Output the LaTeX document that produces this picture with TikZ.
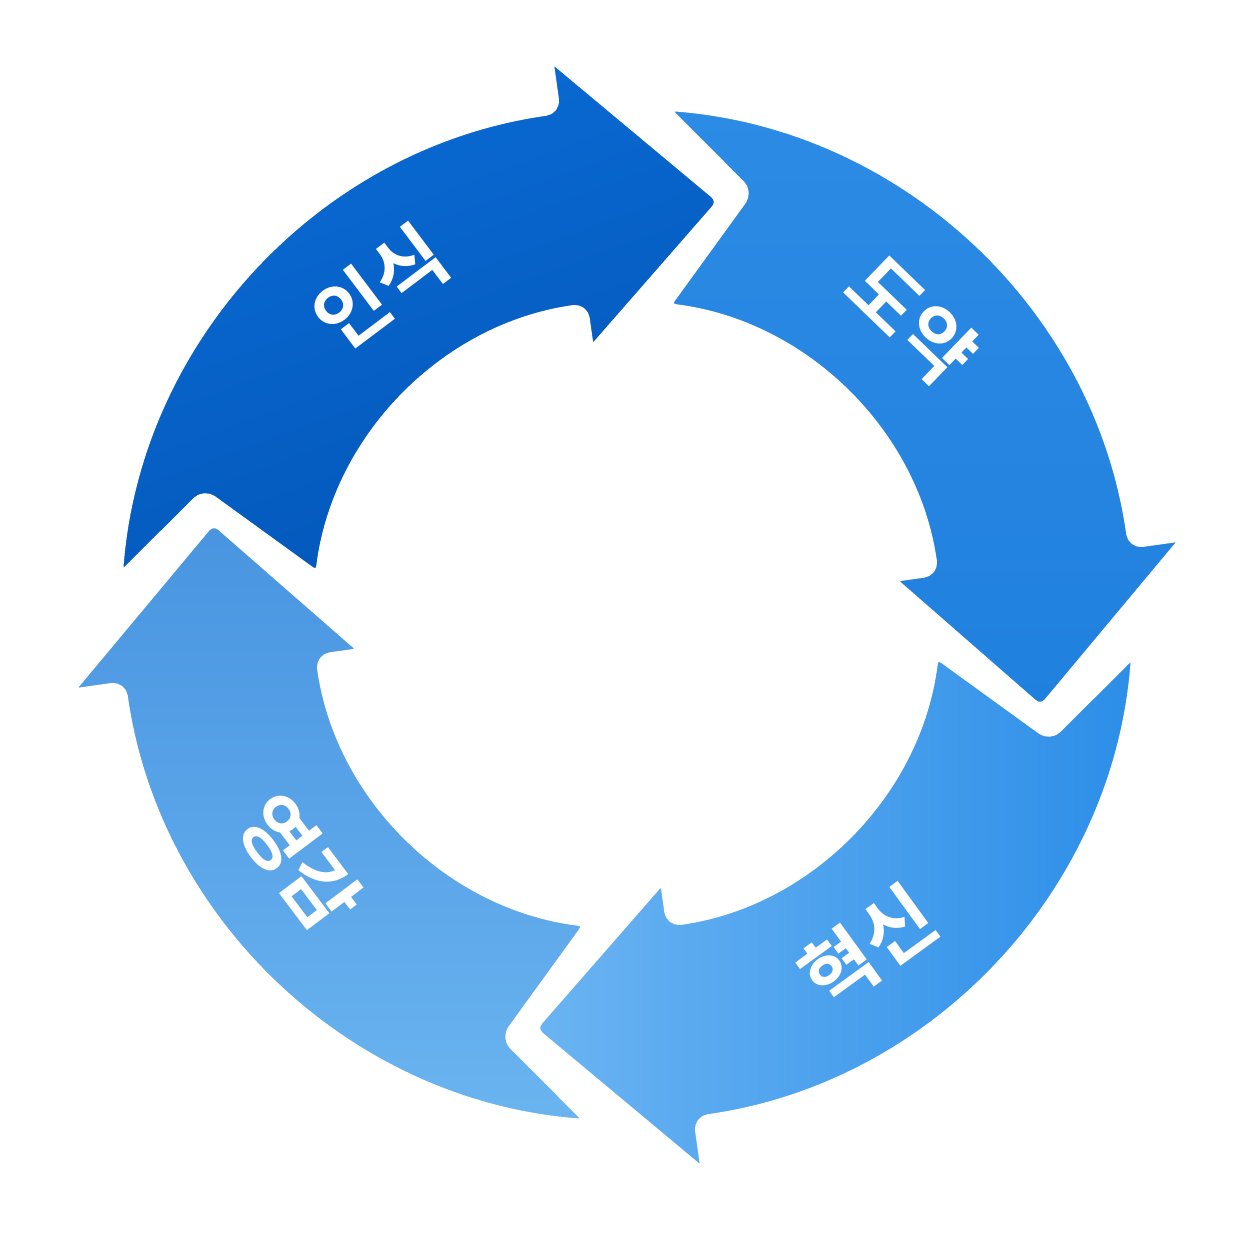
\documentclass[tikz,border=0pt]{standalone}
\usepackage{fontspec}
\newfontfamily\kr{Noto Sans CJK KR}[BoldFont={* Bold}]
\definecolor{blueA}{HTML}{0356B8}
\definecolor{blueB}{HTML}{0A6CD6}
\definecolor{blueC}{HTML}{2C8BE4}
\definecolor{blueD}{HTML}{2080DE}
\definecolor{blueE}{HTML}{2C8EE8}
\definecolor{blueF}{HTML}{6BB4F2}
\definecolor{blueG}{HTML}{6AB4F0}
\definecolor{blueH}{HTML}{4894E0}
\tikzset{
  seg/.style={draw=white, line width=5pt, line join=round, rounded corners=6pt},
  lbl/.style={font=\kr\bfseries\fontsize{44}{44}\selectfont, text=white, inner sep=0pt}
}
\newcommand{\cyclearrow}[2]{%
  \path[seg, #2]
    (176+#1:510) arc[start angle=176+#1, end angle=98+#1, radius=510]
    -- (98+#1:565) -- (77+#1:425) -- (98+#1:265)
    -- (98+#1:310) arc[start angle=98+#1, end angle=173+#1, radius=310]
    -- (164+#1:440) -- cycle;}
\begin{document}
\begin{tikzpicture}[x=0.02cm, y=0.02cm]
\useasboundingbox (0,0) rectangle (1254,1254);
\begin{scope}[shift={(627,639)}]
\cyclearrow{0}{left color=blueB, right color=blueA, shading angle=20}
\cyclearrow{-90}{top color=blueC, bottom color=blueD}
\cyclearrow{-180}{right color=blueE, left color=blueF}
\cyclearrow{-270}{bottom color=blueG, top color=blueH}
\node[lbl, rotate=37] (insik) at (127:410) {인식};
\node[lbl, rotate=-44] (doyak) at (46:410) {도약};
\node[lbl, rotate=36] (hyeoksin) at (-54:410) {혁신};
\node[lbl, rotate=-53] (yeonggam) at (217:410) {영감};
\end{scope}
\end{tikzpicture}
\end{document}
